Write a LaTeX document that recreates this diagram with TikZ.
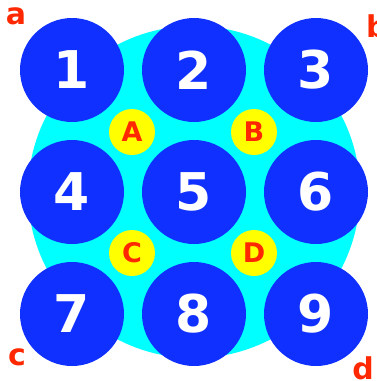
\documentclass[tikz,border=0pt]{standalone}
\usepackage{fontspec}
\setmainfont{DejaVu Sans}
\usetikzlibrary{positioning}
\definecolor{bigblue}{RGB}{16,48,255}
\definecolor{pool}{RGB}{0,255,255}
\definecolor{gold}{RGB}{255,255,0}
\definecolor{redmark}{RGB}{255,40,0}
\begin{document}
\begin{tikzpicture}[x=1pt, y=-1pt,
    rod/.style={circle, fill=bigblue, minimum size=104pt, inner sep=0pt,
      text=white, font=\fontsize{52}{52}\selectfont\bfseries},
    gap/.style={circle, fill=gold, minimum size=46pt, inner sep=0pt,
      text=redmark, font=\fontsize{27}{27}\selectfont\bfseries},
    corner/.style={text=redmark, inner sep=0pt, font=\fontsize{30}{30}\selectfont\bfseries}]
  \useasboundingbox (0,0) rectangle (377,381);
  \clip (0,0) rectangle (377,381);
  % Background disc
  \fill[pool] (194,192) circle (166);
  % Yellow gaps
  \node[gap] (A) at (132,132) {A};
  \node[gap] (B) at (254,132) {B};
  \node[gap] (C) at (132,253) {C};
  \node[gap] (D) at (254,253) {D};
  % Blue rods, 3 by 3
  \foreach \n [count=\i from 0] in {1,...,9} {
    \pgfmathtruncatemacro{\col}{mod(\i,3)}
    \pgfmathtruncatemacro{\row}{int(\i/3)}
    \node[rod] (r\n) at ({72+122*\col},{70+122*\row}) {\n};
  }
  % Corner labels
  \node[corner] (a) at (16,16) {a};
  \node[corner, anchor=west] (b) at (366,26) {b};
  \node[corner] (c) at (17,357) {c};
  \node[corner] (d) at (363,368) {d};
\end{tikzpicture}
\end{document}
